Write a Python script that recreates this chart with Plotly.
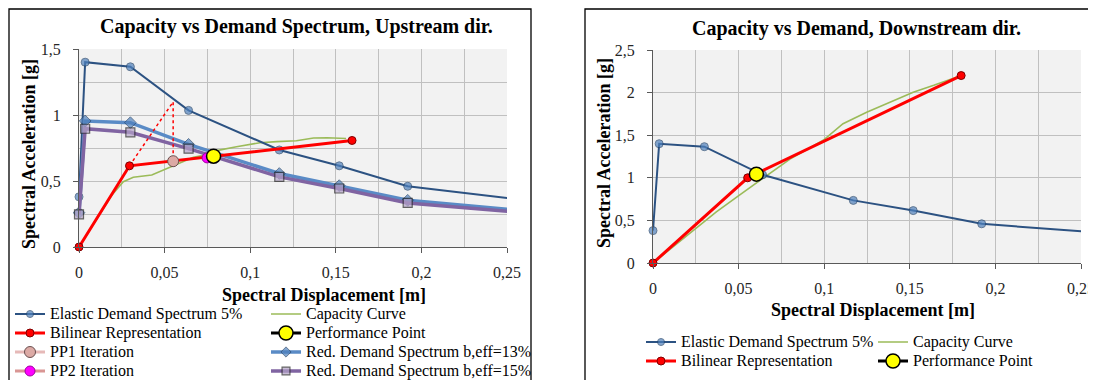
import plotly.graph_objects as go

# ---------------- data ----------------
# Elastic demand spectrum 5 % (same spectrum in both charts); last point lies past the axis end
elastic_sd = [0.0, 0.0036, 0.030, 0.064, 0.117, 0.152, 0.192, 0.300]
elastic_sa = [0.38, 1.40, 1.365, 1.035, 0.735, 0.615, 0.460, 0.296]

# Upstream direction (left chart)
red13_sd = [0.0, 0.0036, 0.030, 0.064, 0.117, 0.152, 0.192, 0.300]
red13_sa = [0.26, 0.955, 0.942, 0.778, 0.557, 0.465, 0.354, 0.226]
red15_sd = [0.0, 0.0036, 0.030, 0.064, 0.117, 0.152, 0.192, 0.300]
red15_sa = [0.247, 0.896, 0.869, 0.745, 0.531, 0.443, 0.334, 0.215]

cap_up_sd = [0.0, 0.019, 0.0259, 0.0317, 0.0425, 0.0493, 0.059, 0.0668, 0.0736, 0.0804,
             0.092, 0.100, 0.1057, 0.1155, 0.127, 0.137, 0.145, 0.156]
cap_up_sa = [0.0, 0.39, 0.495, 0.528, 0.545, 0.583, 0.634, 0.679, 0.697, 0.73,
             0.76, 0.78, 0.79, 0.798, 0.805, 0.826, 0.828, 0.822]

bil_up_sd = [0.0, 0.0295, 0.1595]
bil_up_sa = [0.0, 0.615, 0.807]

iter_up_sd = [0.0295, 0.055, 0.055]   # dotted construction line of PP1 iteration
iter_up_sa = [0.615, 1.10, 0.648]

pp1_sd = [0.055]
pp1_sa = [0.650]
pp2_sd = [0.0748]
pp2_sa = [0.675]
perf_up_sd = [0.0786]
perf_up_sa = [0.688]

# Downstream direction (right chart)
cap_dn_sd = [0.0, 0.0215, 0.037, 0.0507, 0.0644, 0.080, 0.0994, 0.111, 0.1248, 0.1385,
             0.152, 0.164, 0.1756, 0.1785]
cap_dn_sa = [0.0, 0.35, 0.60, 0.80, 1.00, 1.22, 1.44, 1.635, 1.77, 1.89,
             2.005, 2.085, 2.165, 2.19]
bil_dn_sd = [0.0, 0.0553, 0.180]
bil_dn_sa = [0.0, 1.0, 2.20]
perf_dn_sd = [0.0604]
perf_dn_sa = [1.043]

x_ticks = [0, 0.05, 0.10, 0.15, 0.20, 0.25]

# ---------------- styling / layout ----------------
OFF = 8                      # page body margin of the browser
W, H = 1096 - OFF, 380 - OFF
SERIF = "Liberation Serif"


def fx(p):
    return (p - OFF) / W


def fy(p):
    return 1 - (p - OFF) / H


def lg(text):
    return f'<span style="font-size:16px">{text}</span>'


def sizes(xs, s, xmax=0.25):
    # markers of points lying past the axis end are not shown
    return [s if v <= xmax else 0 for v in xs]


C_EL = '#2c5282'
C_EL_M = '#4f81bd'
C_13 = '#5a8bc6'
C_15 = '#8064a2'
C_CAP = '#9bbb59'
C_RED = '#ff0000'

fig = go.Figure()


def add_left(**kw):
    fig.add_trace(go.Scatter(xaxis='x', yaxis='y', cliponaxis=False, **kw))


def add_right(**kw):
    fig.add_trace(go.Scatter(xaxis='x2', yaxis='y2', cliponaxis=False, **kw))


# ---- left chart ----
add_left(x=cap_up_sd, y=cap_up_sa, mode='lines', name=lg('Capacity Curve'),
         line=dict(color=C_CAP, width=1.6), legend='legend2', legendrank=1)
add_left(x=elastic_sd, y=elastic_sa, mode='lines+markers', name=lg('Elastic Demand Spectrum 5%'),
         line=dict(color=C_EL, width=2),
         marker=dict(symbol='circle', size=sizes(elastic_sd, 8), color=C_EL_M,
                     line=dict(color='#27466b', width=1)),
         legend='legend', legendrank=1)
add_left(x=red13_sd, y=red13_sa, mode='lines+markers', name=lg('Red. Demand Spectrum b,eff=13%'),
         line=dict(color=C_13, width=3.5),
         marker=dict(symbol='diamond', size=sizes(red13_sd, 9), color=C_EL_M,
                     line=dict(color='#27466b', width=1)),
         legend='legend2', legendrank=3)
add_left(x=red15_sd, y=red15_sa, mode='lines+markers', name=lg('Red. Demand Spectrum b,eff=15%'),
         line=dict(color=C_15, width=3.5),
         marker=dict(symbol='square', size=sizes(red15_sd, 9), color='#b3a2c7',
                     line=dict(color='#262626', width=1.2)),
         legend='legend2', legendrank=4)
add_left(x=iter_up_sd, y=iter_up_sa, mode='lines', showlegend=False,
         line=dict(color=C_RED, width=1.5, dash='dot'), hoverinfo='skip')
add_left(x=bil_up_sd, y=bil_up_sa, mode='lines+markers', name=lg('Bilinear Representation'),
         line=dict(color=C_RED, width=3),
         marker=dict(symbol='circle', size=8, color=C_RED, line=dict(color='#800000', width=1)),
         legend='legend', legendrank=2)
add_left(x=pp1_sd, y=pp1_sa, mode='lines+markers', name=lg('PP1 Iteration'),
         line=dict(color='#e6b9b8', width=3),
         marker=dict(symbol='circle', size=11, color='#dcaaa5', line=dict(color='#6b5050', width=1)),
         legend='legend', legendrank=3)
add_left(x=pp2_sd, y=pp2_sa, mode='lines+markers', name=lg('PP2 Iteration'),
         line=dict(color='#d99694', width=3),
         marker=dict(symbol='circle', size=10, color='#ff00ff', line=dict(color='#a000a0', width=1)),
         legend='legend', legendrank=4)
add_left(x=perf_up_sd, y=perf_up_sa, mode='lines+markers', name=lg('Performance Point'),
         line=dict(color='#000000', width=3),
         marker=dict(symbol='circle', size=14, color='#ffff00', line=dict(color='#000000', width=1.5)),
         legend='legend2', legendrank=2)

# ---- right chart ----
add_right(x=cap_dn_sd, y=cap_dn_sa, mode='lines', name=lg('Capacity Curve'),
          line=dict(color=C_CAP, width=1.6), legend='legend4', legendrank=1)
add_right(x=elastic_sd, y=elastic_sa, mode='lines+markers', name=lg('Elastic Demand Spectrum 5%'),
          line=dict(color=C_EL, width=2),
          marker=dict(symbol='circle', size=sizes(elastic_sd, 8), color=C_EL_M,
                      line=dict(color='#27466b', width=1)),
          legend='legend3', legendrank=1)
add_right(x=bil_dn_sd, y=bil_dn_sa, mode='lines+markers', name=lg('Bilinear Representation'),
          line=dict(color=C_RED, width=3),
          marker=dict(symbol='circle', size=8, color=C_RED, line=dict(color='#800000', width=1)),
          legend='legend3', legendrank=2)
add_right(x=perf_dn_sd, y=perf_dn_sa, mode='lines+markers', name=lg('Performance Point'),
          line=dict(color='#000000', width=3),
          marker=dict(symbol='circle', size=14, color='#ffff00', line=dict(color='#000000', width=1.5)),
          legend='legend4', legendrank=2)

GRID = '#c0c0c0'
AXL = '#595959'
tickfont = dict(family=SERIF, size=16, color='#262626')


def xaxis(domain, anchor):
    return dict(domain=domain, anchor=anchor, range=[0, 0.25], tickvals=x_ticks,
                showgrid=True, gridcolor=GRID, gridwidth=1,
                minor=dict(dtick=0.025, tick0=0, showgrid=True, gridcolor=GRID, gridwidth=1),
                showline=True, linecolor=AXL, linewidth=1, ticks='outside', ticklen=5,
                tickcolor=AXL, tickfont=tickfont, ticklabelstandoff=6, zeroline=False,
                fixedrange=True)


def yaxis(domain, anchor, top, minor):
    d = dict(domain=domain, anchor=anchor, range=[0, top], dtick=0.5, tick0=0,
             showgrid=True, gridcolor=GRID, gridwidth=1,
             showline=True, linecolor=AXL, linewidth=1, ticks='outside', ticklen=5,
             tickcolor=AXL, tickfont=tickfont, ticklabelstandoff=9, zeroline=False,
             fixedrange=True)
    if minor:
        d['minor'] = dict(dtick=0.25, tick0=0, showgrid=True, gridcolor=GRID, gridwidth=1)
    return d


legend_common = dict(xanchor='left', yanchor='top', orientation='v', bgcolor='rgba(0,0,0,0)',
                     borderwidth=0, itemwidth=30, tracegroupgap=0,
                     font=dict(family=SERIF, size=12, color='#000000'))

title_font = dict(family=SERIF, size=20, color='#000000')
axis_title_font = dict(family=SERIF, size=18, color='#000000')

annotations = [
    dict(text='<b>Capacity vs Demand Spectrum, Upstream dir.</b>', x=fx(296), y=fy(27),
         font=title_font),
    dict(text='<b>Capacity vs Demand, Downstream dir.</b>', x=fx(856), y=fy(29),
         font=title_font),
    dict(text='<b>Spectral Displacement [m]</b>', x=fx(324), y=fy(295), font=axis_title_font),
    dict(text='<b>Spectral Displacement [m]</b>', x=fx(873), y=fy(310), font=axis_title_font),
    dict(text='<b>Spectral Acceleration [g]</b>', x=fx(29), y=fy(154), textangle=-90,
         font=axis_title_font),
    dict(text='<b>Spectral Acceleration [g]</b>', x=fx(604), y=fy(153), textangle=-90,
         font=axis_title_font),
]
for a in annotations:
    a.update(xref='paper', yref='paper', xanchor='center', yanchor='middle', showarrow=False)

FRAME_TOP = 9
shapes = [
    dict(type='rect', xref='paper', yref='paper', x0=fx(9), x1=fx(531), y0=-0.05, y1=fy(FRAME_TOP),
         line=dict(color='#000000', width=1.3), fillcolor='rgba(0,0,0,0)', layer='above'),
    dict(type='rect', xref='paper', yref='paper', x0=fx(585), x1=1.05, y0=-0.05, y1=fy(FRAME_TOP),
         line=dict(color='#000000', width=1.3), fillcolor='rgba(0,0,0,0)', layer='above'),
]

fig.update_layout(
    width=W, height=H,
    margin=dict(l=0, r=0, t=0, b=0, autoexpand=False),
    paper_bgcolor='#ffffff', plot_bgcolor='#f2f2f2',
    separators=', ',
    font=dict(family=SERIF, color='#000000'),
    xaxis=xaxis([fx(79), fx(507)], 'y'),
    yaxis=yaxis([fy(247), fy(49)], 'x', 1.5, True),
    xaxis2=xaxis([fx(653), fx(1081)], 'y2'),
    yaxis2=yaxis([fy(263), fy(50)], 'x2', 2.5, False),
    legend=dict(x=fx(10), y=fy(299.5), **legend_common),
    legend2=dict(x=fx(266), y=fy(299.5), **legend_common),
    legend3=dict(x=fx(641), y=fy(327.5), **legend_common),
    legend4=dict(x=fx(873), y=fy(327.5), **legend_common),
    annotations=annotations,
    shapes=shapes,
    hovermode=False,
)

fig.write_html("out.html")
